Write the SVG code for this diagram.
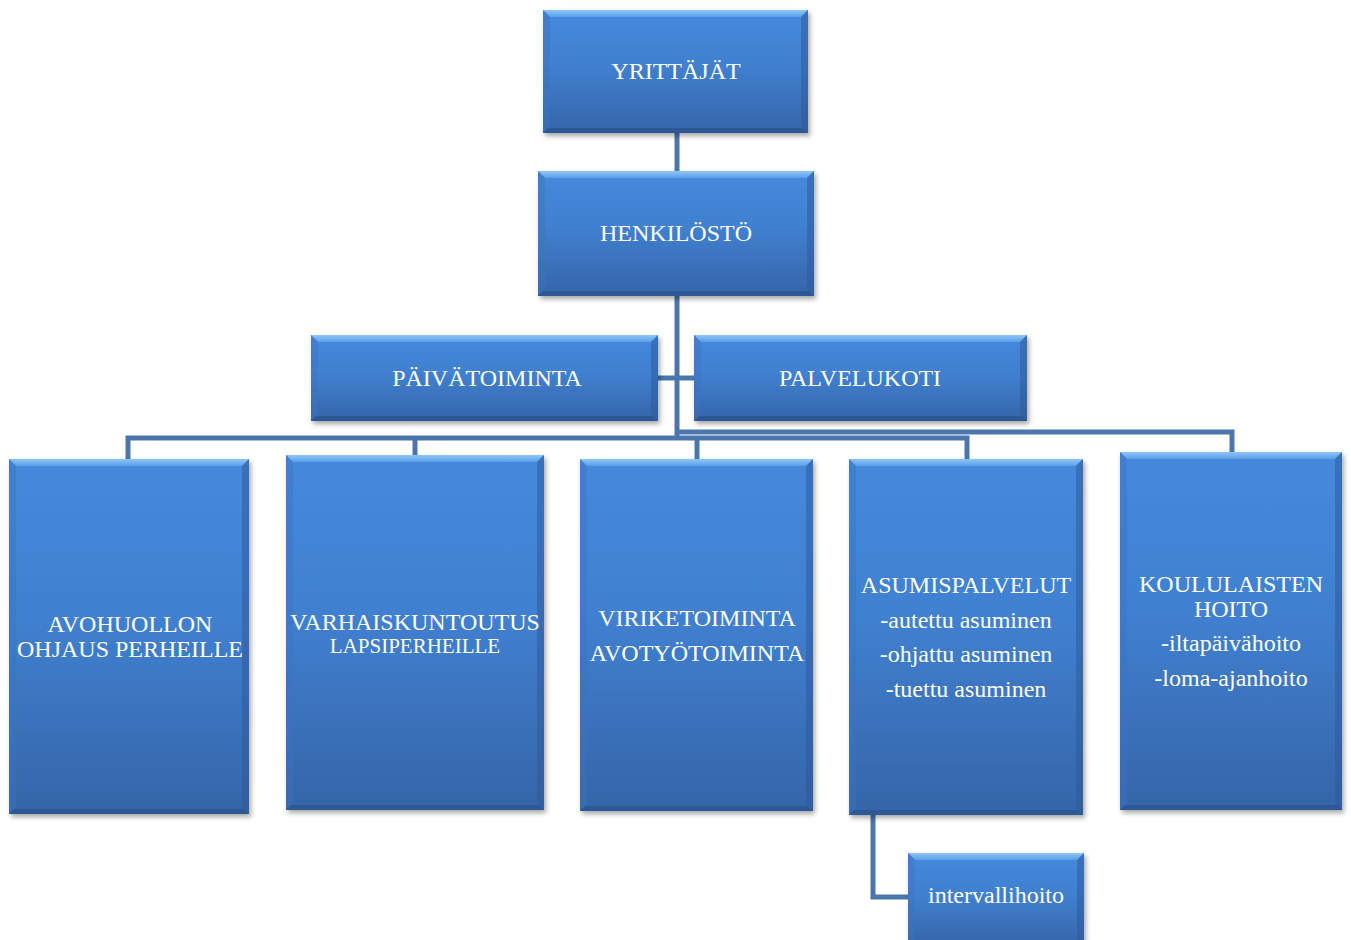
<svg xmlns="http://www.w3.org/2000/svg" width="1351" height="940" viewBox="0 0 1351 940">
<defs>
<linearGradient id="body" x1="0" y1="0" x2="0" y2="1">
<stop offset="0" stop-color="#4589dc"/>
<stop offset="0.45" stop-color="#4080d0"/>
<stop offset="1" stop-color="#3565a8"/>
</linearGradient>
<linearGradient id="topb" x1="0" y1="0" x2="0" y2="1">
<stop offset="0" stop-color="#8ec6f7"/>
<stop offset="1" stop-color="#5b9ee9"/>
</linearGradient>
<filter id="sh" x="-10%" y="-10%" width="120%" height="120%">
<feDropShadow dx="2" dy="3" stdDeviation="2.5" flood-color="#000" flood-opacity="0.35"/>
</filter>
<style>
.b{fill:url(#body);filter:url(#sh)}
.t{fill:url(#topb)}
.l{fill:#3b74c0;opacity:0.45}
.r{fill:#2d5796;opacity:0.5}
.m{fill:#2b5590;opacity:0.8}
.tx{font-family:"Liberation Serif","Times New Roman",serif;fill:#fff;text-anchor:middle;font-size:24px}
.sm{font-size:21px}
.c{fill:none;stroke:#4a76ad;stroke-width:5}
</style>
</defs>
<g id="connectors">
<path class="c" d="M677,133 V171"/>
<path class="c" d="M677,296 V438"/>
<path class="c" d="M658,378 H694"/>
<path class="c" d="M677,432 H1232 V452"/>
<path class="c" d="M128,459 V438 H967 V459"/>
<path class="c" d="M415,438 V455"/>
<path class="c" d="M697,438 V459"/>
<path class="c" d="M873,815 V897 H908"/>
</g>
<g id="n-yrittajat">
<rect class="b" x="543" y="10" width="265" height="123"/>
<polygon class="t" points="543,10 808,10 801,17 550,17"/>
<polygon class="l" points="543,10 550,17 550,126 543,133"/>
<polygon class="r" points="808,10 808,133 801,126 801,17"/>
<polygon class="m" points="543,133 548,128 803,128 808,133"/>
<text class="tx" x="676" y="79">YRITTÄJÄT</text>
</g>
<g id="n-henkilosto">
<rect class="b" x="538" y="171" width="276" height="125"/>
<polygon class="t" points="538,171 814,171 807,178 545,178"/>
<polygon class="l" points="538,171 545,178 545,289 538,296"/>
<polygon class="r" points="814,171 814,296 807,289 807,178"/>
<polygon class="m" points="538,296 543,291 809,291 814,296"/>
<text class="tx" x="676" y="241">HENKILÖSTÖ</text>
</g>
<g id="n-paivatoiminta">
<rect class="b" x="311" y="335" width="347" height="86"/>
<polygon class="t" points="311,335 658,335 651,342 318,342"/>
<polygon class="l" points="311,335 318,342 318,414 311,421"/>
<polygon class="r" points="658,335 658,421 651,414 651,342"/>
<polygon class="m" points="311,421 316,416 653,416 658,421"/>
<text class="tx" x="487" y="386">PÄIVÄTOIMINTA</text>
</g>
<g id="n-palvelukoti">
<rect class="b" x="694" y="335" width="333" height="86"/>
<polygon class="t" points="694,335 1027,335 1020,342 701,342"/>
<polygon class="l" points="694,335 701,342 701,414 694,421"/>
<polygon class="r" points="1027,335 1027,421 1020,414 1020,342"/>
<polygon class="m" points="694,421 699,416 1022,416 1027,421"/>
<text class="tx" x="860" y="386">PALVELUKOTI</text>
</g>
<g id="n-avohuollon">
<rect class="b" x="9" y="459" width="240" height="355"/>
<polygon class="t" points="9,459 249,459 242,466 16,466"/>
<polygon class="l" points="9,459 16,466 16,807 9,814"/>
<polygon class="r" points="249,459 249,814 242,807 242,466"/>
<polygon class="m" points="9,814 14,809 244,809 249,814"/>
<text class="tx" x="130" y="632">AVOHUOLLON</text>
<text class="tx" x="130" y="657">OHJAUS PERHEILLE</text>
</g>
<g id="n-varhaiskuntoutus">
<rect class="b" x="286" y="455" width="258" height="355"/>
<polygon class="t" points="286,455 544,455 537,462 293,462"/>
<polygon class="l" points="286,455 293,462 293,803 286,810"/>
<polygon class="r" points="544,455 544,810 537,803 537,462"/>
<polygon class="m" points="286,810 291,805 539,805 544,810"/>
<text class="tx" x="415" y="630">VARHAISKUNTOUTUS</text>
<text class="tx sm" x="415" y="653">LAPSIPERHEILLE</text>
</g>
<g id="n-viriketoiminta">
<rect class="b" x="580" y="459" width="233" height="352"/>
<polygon class="t" points="580,459 813,459 806,466 587,466"/>
<polygon class="l" points="580,459 587,466 587,804 580,811"/>
<polygon class="r" points="813,459 813,811 806,804 806,466"/>
<polygon class="m" points="580,811 585,806 808,806 813,811"/>
<text class="tx" x="697" y="626">VIRIKETOIMINTA</text>
<text class="tx" x="697" y="661">AVOTYÖTOIMINTA</text>
</g>
<g id="n-asumispalvelut">
<rect class="b" x="849" y="459" width="234" height="356"/>
<polygon class="t" points="849,459 1083,459 1076,466 856,466"/>
<polygon class="l" points="849,459 856,466 856,808 849,815"/>
<polygon class="r" points="1083,459 1083,815 1076,808 1076,466"/>
<polygon class="m" points="849,815 854,810 1078,810 1083,815"/>
<text class="tx" x="966" y="593">ASUMISPALVELUT</text>
<text class="tx" x="966" y="628">-autettu asuminen</text>
<text class="tx" x="966" y="662">-ohjattu asuminen</text>
<text class="tx" x="966" y="697">-tuettu asuminen</text>
</g>
<g id="n-koululaisten">
<rect class="b" x="1120" y="452" width="222" height="358"/>
<polygon class="t" points="1120,452 1342,452 1335,459 1127,459"/>
<polygon class="l" points="1120,452 1127,459 1127,803 1120,810"/>
<polygon class="r" points="1342,452 1342,810 1335,803 1335,459"/>
<polygon class="m" points="1120,810 1125,805 1337,805 1342,810"/>
<text class="tx" x="1231" y="592">KOULULAISTEN</text>
<text class="tx" x="1231" y="617">HOITO</text>
<text class="tx" x="1231" y="651">-iltapäivähoito</text>
<text class="tx" x="1231" y="686">-loma-ajanhoito</text>
</g>
<g id="n-intervallihoito">
<rect class="b" x="908" y="853" width="176" height="93"/>
<polygon class="t" points="908,853 1084,853 1077,860 915,860"/>
<polygon class="l" points="908,853 915,860 915,939 908,946"/>
<polygon class="r" points="1084,853 1084,946 1077,939 1077,860"/>
<text class="tx" x="996" y="903">intervallihoito</text>
</g>
</svg>
